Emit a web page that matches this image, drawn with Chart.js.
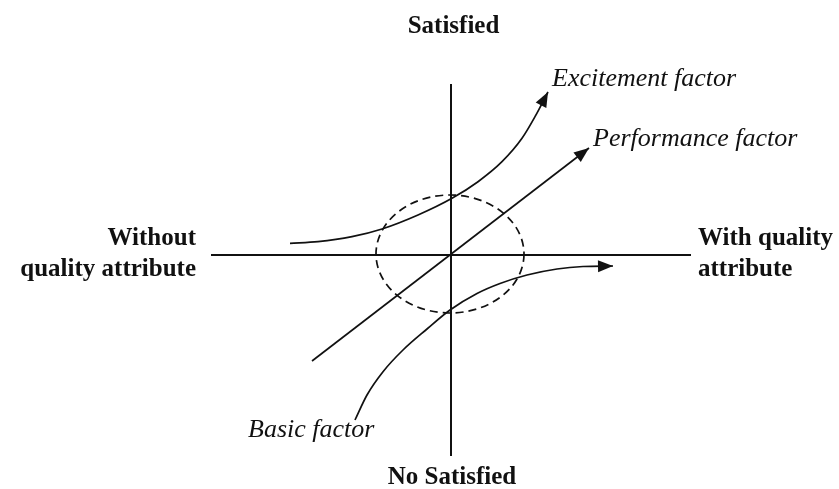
<!DOCTYPE html>
<html>
<head>
<meta charset="utf-8">
<title>Kano model</title>
<script src="https://cdn.jsdelivr.net/npm/chart.js@4"></script>
<style>
  html, body { margin: 0; padding: 0; background: #fff; }
  canvas { display: block; }
</style>
</head>
<body>
<canvas id="kano" width="839" height="489"></canvas>
<script>
// --- Dados (unidades do diagrama, origem no cruzamento dos eixos) ---
const eixoHorizontal = [[-24, 0], [24, 0]];
const eixoVertical = [[0, 17.1], [0, -20.1]];

const performanceX = [-13.9, 13.8];
const performanceY = [-10.6, 10.7];

const excitementX = [-16.1, -13.3, -9.9, -6.9, -3.3, 0.1, 2.7, 5.1, 7.1, 8.4, 9.7];
const excitementY = [1.17, 1.33, 1.83, 2.6, 4.0, 5.67, 7.33, 9.33, 11.67, 13.83, 16.3];

const basicX = [-9.6, -8.4, -6.8, -4.8, -2.4, -0.1, 2.6, 4.9, 7.6, 10.6, 13.2, 16.2];
const basicY = [-16.5, -14.0, -11.67, -9.5, -7.4, -5.5, -3.85, -2.85, -2.0, -1.4, -1.15, -1.1];

// zona de indiferença: centro x, centro y, raio x, raio y
const zonaIndiferenca = [-0.1, 0.1, 7.4, 5.9];

const rotulosEixos = ["Satisfied", "No Satisfied", "Without", "quality attribute", "With quality", "attribute"];
const rotulosFatores = ["Excitement factor", "Performance factor", "Basic factor"];

// --- Funções auxiliares ---
function pontos(xs, ys) {
    return xs.map((x, i) => ({ x: x, y: ys[i] }));
}

function linha(data, extra) {
    return Object.assign({
        data: data,
        showLine: true,
        pointRadius: 0,
        borderColor: "#111",
        borderWidth: 1.7,
        fill: false
    }, extra || {});
}

// --- Plugin: setas, elipse tracejada e textos ---
const desenhoKano = {
    id: "desenhoKano",
    afterDatasetsDraw(chart) {
        const ctx = chart.ctx;
        const sx = chart.scales.x, sy = chart.scales.y;

        // elipse tracejada
        const cx = sx.getPixelForValue(zonaIndiferenca[0]);
        const cy = sy.getPixelForValue(zonaIndiferenca[1]);
        const rx = sx.getPixelForValue(zonaIndiferenca[0] + zonaIndiferenca[2]) - cx;
        const ry = cy - sy.getPixelForValue(zonaIndiferenca[1] + zonaIndiferenca[3]);
        ctx.save();
        ctx.strokeStyle = "#111";
        ctx.lineWidth = 1.7;
        ctx.setLineDash([8, 5]);
        ctx.beginPath();
        ctx.ellipse(cx, cy, rx, ry, 0, 0, Math.PI * 2);
        ctx.stroke();
        ctx.restore();

        // pontas de seta nos fatores
        [1, 2, 3].forEach(i => {
            const pts = chart.getDatasetMeta(i + 1).data;
            const a = pts[pts.length - 2], b = pts[pts.length - 1];
            const ang = Math.atan2(b.y - a.y, b.x - a.x);
            ctx.save();
            ctx.translate(b.x, b.y);
            ctx.rotate(ang);
            ctx.fillStyle = "#111";
            ctx.beginPath();
            ctx.moveTo(0, 0);
            ctx.lineTo(-15, -6);
            ctx.lineTo(-15, 6);
            ctx.closePath();
            ctx.fill();
            ctx.restore();
        });

        function texto(str, x, y, align, fonte) {
            const px = sx.getPixelForValue(x), py = sy.getPixelForValue(y);
            ctx.save();
            ctx.font = fonte;
            ctx.fillStyle = "#111";
            ctx.textAlign = align;
            ctx.textBaseline = "alphabetic";
            ctx.fillText(str, px, py);
            ctx.restore();
        }

        const negrito = "bold 25px 'Liberation Serif', 'DejaVu Serif', serif";
        const italico = "italic 26px 'Liberation Serif', 'DejaVu Serif', serif";

        texto(rotulosEixos[0], 0.25, 22.2, "center", negrito);
        texto(rotulosEixos[1], 0.1, -22.9, "center", negrito);
        texto(rotulosEixos[2], -25.5, 1.0, "right", negrito);
        texto(rotulosEixos[3], -25.5, -2.1, "right", negrito);
        texto(rotulosEixos[4], 24.7, 1.0, "left", negrito);
        texto(rotulosEixos[5], 24.7, -2.1, "left", negrito);

        texto(rotulosFatores[0], 10.1, 16.9, "left", italico);
        texto(rotulosFatores[1], 14.2, 10.9, "left", italico);
        texto(rotulosFatores[2], -20.3, -18.2, "left", italico);
    }
};

// --- Gráfico ---
new Chart(document.getElementById("kano"), {
    type: "scatter",
    data: {
        datasets: [
            linha(pontos(eixoHorizontal.map(p => p[0]), eixoHorizontal.map(p => p[1])), { borderWidth: 2 }),
            linha(pontos(eixoVertical.map(p => p[0]), eixoVertical.map(p => p[1])), { borderWidth: 2 }),
            linha(pontos(excitementX, excitementY), { cubicInterpolationMode: "monotone" }),
            linha(pontos(performanceX, performanceY)),
            linha(pontos(basicX, basicY), { cubicInterpolationMode: "monotone" })
        ]
    },
    options: {
        responsive: false,
        animation: false,
        layout: { padding: 0 },
        plugins: { legend: { display: false }, tooltip: { enabled: false } },
        scales: {
            x: { type: "linear", display: false, min: -45.1, max: 38.8 },
            y: { type: "linear", display: false, min: -23.4, max: 25.5 }
        }
    },
    plugins: [desenhoKano]
});
</script>
</body>
</html>
